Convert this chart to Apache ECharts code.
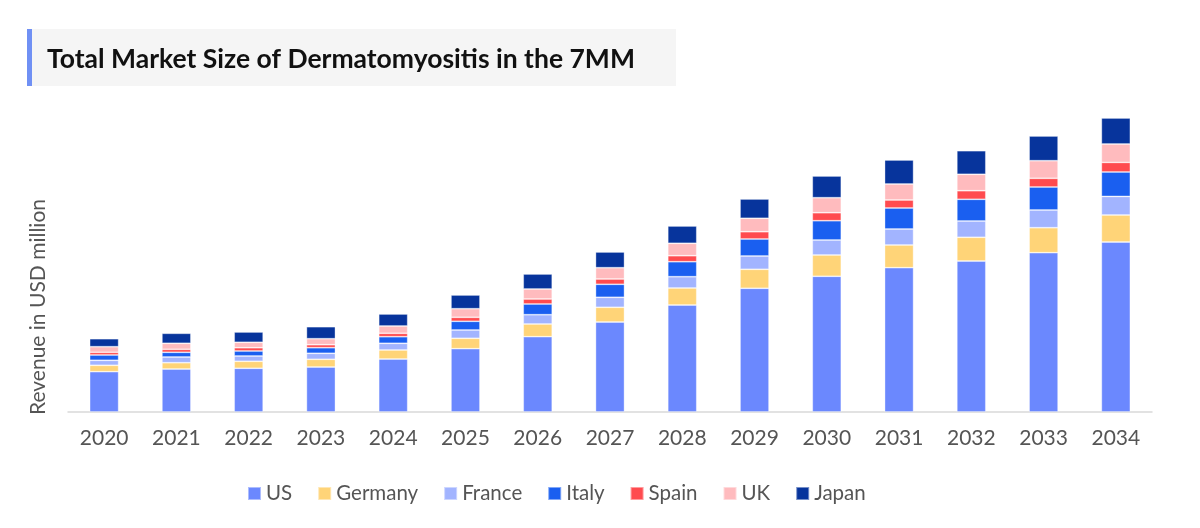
<!DOCTYPE html>
<html>
<head>
<meta charset="utf-8">
<title>Total Market Size of Dermatomyositis in the 7MM</title>
<script src="https://cdn.jsdelivr.net/npm/echarts@6/dist/echarts.min.js"></script>
<style>
html,body{margin:0;padding:0;background:#fff}
#chart{width:1200px;height:528px}
</style>
</head>
<body>
<div id="chart"></div>
<script>
// values (USD million, estimated)
var years = ['2020','2021','2022','2023','2024','2025','2026','2027','2028','2029','2030','2031','2032','2033','2034'];
var us      = [40.3, 43, 43.7, 45, 53, 63.3, 75.3, 90, 107, 123.7, 135.7, 144.3, 151, 159.3, 170];
var germany = [6.4, 6.3, 7, 7.7, 9, 10.4, 12.7, 14.7, 17, 19, 21.3, 22.7, 23.7, 25, 27];
var france  = [5, 5.7, 5.3, 6, 6.7, 8.3, 9.3, 10, 11.3, 13.3, 15, 16, 16.3, 17.7, 18.6];
var italy   = [5.3, 4.7, 5, 5.6, 6.6, 8.7, 10.7, 13, 15, 17, 19.3, 21, 21.7, 23, 24.4];
var spain   = [2.7, 3, 3.3, 3, 3.4, 4, 5, 5.3, 6, 7.3, 8, 8, 8.6, 8.7, 9.6];
var uk      = [5.6, 6, 5.4, 6, 7.3, 8.6, 10, 11.3, 12.4, 13.4, 15, 16, 16.4, 17.6, 18.4];
var japan   = [8, 10, 10.3, 12, 12, 13.7, 15, 15.7, 17.3, 19.3, 21.7, 24, 23.6, 24.7, 26];

var names  = ['US','Germany','France','Italy','Spain','UK','Japan'];
var colors = ['#6b88fe','#ffd478','#a2b4ff','#1a5ff0','#ff4b4f','#ffbbbe','#07349c'];
var values = [us, germany, france, italy, spain, uk, japan];

var series = [];
for (var i = 0; i < names.length; i++) {
    series.push({
        name: names[i],
        type: 'bar',
        stack: 'total',
        barWidth: 29,
        data: values[i],
        itemStyle: {color: colors[i], borderColor: 'rgba(255,255,255,0.45)', borderWidth: 0.8}
    });
}

var option = {
    color: colors,
    textStyle: {fontFamily: 'Lato'},
    graphic: [
        {type: 'rect', left: 27, top: 29, shape: {width: 649, height: 57}, style: {fill: '#f5f5f5'}, z: 0},
        {type: 'rect', left: 27, top: 29, shape: {width: 5, height: 57}, style: {fill: '#7090f4'}, z: 1},
        {type: 'text', x: 47, y: 59, z: 2,
            style: {text: 'Total Market Size of Dermatomyositis in the 7MM', fill: '#111', font: 'bold 26.5px Lato', verticalAlign: 'middle'}},
        {type: 'text', x: 38, y: 307, rotation: Math.PI / 2, z: 2,
            style: {text: 'Revenue in USD million', fill: '#555', font: '21px Lato', align: 'center', verticalAlign: 'middle'}}
    ],
    legend: {
        data: names,
        left: 242,
        top: 478,
        itemWidth: 13,
        itemHeight: 13,
        itemGap: 25,
        icon: 'rect',
        textStyle: {fontSize: 20.5, color: '#555', fontFamily: 'Lato'}
    },
    grid: {left: 68, right: 48, top: 112, bottom: 116},
    xAxis: {
        type: 'category',
        data: years,
        axisLine: {lineStyle: {color: '#d9d9d9', width: 1.5}},
        axisTick: {show: false},
        axisLabel: {fontSize: 21, color: '#555', margin: 16, fontFamily: 'Lato'}
    },
    yAxis: {
        type: 'value',
        min: 0,
        max: 300,
        axisLine: {show: false},
        axisTick: {show: false},
        axisLabel: {show: false},
        splitLine: {show: false}
    },
    series: series
};

var myChart = echarts.init(document.getElementById('chart'));
myChart.setOption(option);
</script>
</body>
</html>
